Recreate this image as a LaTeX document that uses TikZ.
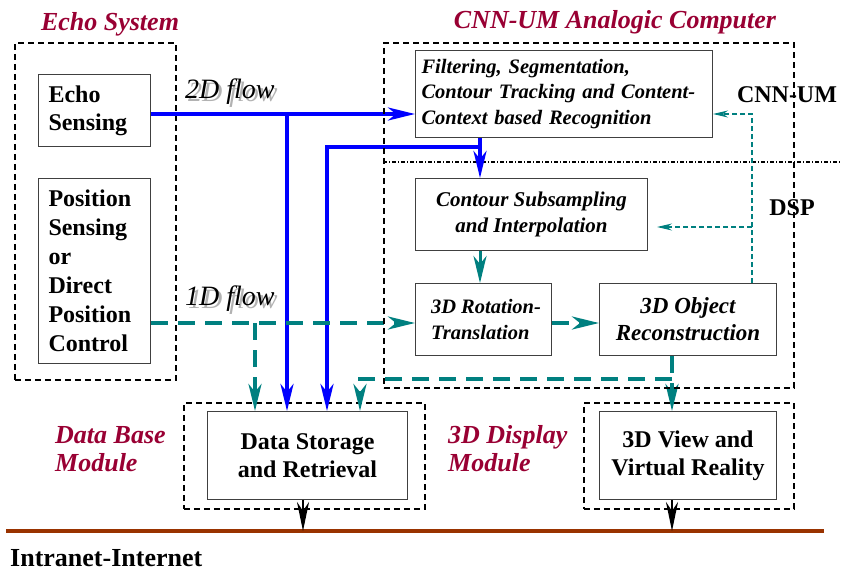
\documentclass[tikz,border=0pt]{standalone}
\usepackage{fontspec}
\setmainfont{Liberation Serif}
\usetikzlibrary{arrows.meta}
\definecolor{maroon}{RGB}{153,0,51}
\definecolor{flowteal}{RGB}{0,128,128}
\definecolor{netbrown}{RGB}{153,51,0}
\newcommand{\shadowtext}[1]{\makebox[0pt][l]{\hspace*{3pt}\raisebox{-3pt}{\textcolor{black!30}{#1}}}#1}
\begin{document}
\begin{tikzpicture}[x=1pt,y=-1pt,
  box/.style={draw=black!75, line width=1pt, fill=white, inner sep=0pt, anchor=north west},
  boldtxt/.style={font=\fontsize{24}{28}\selectfont\bfseries},
  itboxtxt/.style={font=\fontsize{21}{25.5}\selectfont\bfseries\itshape},
  group/.style={draw, line width=1.8pt, dash pattern=on 6pt off 4pt, inner sep=0pt, anchor=north west},
  titletxt/.style={text=maroon, font=\fontsize{26}{28}\selectfont\bfseries\itshape},
  flowtxt/.style={font=\fontsize{28}{30}\selectfont\itshape, inner sep=0pt, anchor=west},
  bigtip/.style={-{Stealth[length=27pt, width=13pt, inset=8pt]}},
  flow2d/.style={blue, line width=4pt, bigtip},
  flow1d/.style={flowteal, line width=4pt, dash pattern=on 17pt off 10pt, bigtip},
  ctrl/.style={flowteal, line width=1.5pt, dash pattern=on 5pt off 3pt, -{Stealth[length=15pt, width=7pt, inset=5pt]}},
  netarrow/.style={black, line width=2.5pt, -{Stealth[length=29pt, width=12pt, inset=9pt]}}
]
\useasboundingbox (0,0) rectangle (841,571);

% group frames
\node[group, minimum width=161pt, minimum height=337pt] (echosys) at (14,42) {};
\node[group, minimum width=241pt, minimum height=106pt] (dbmod) at (183,402) {};
\node[group, minimum width=210pt, minimum height=106pt] (dispmod) at (583,402) {};

% partition between CNN-UM and DSP
\coordinate (divL) at (383,162);
\coordinate (divR) at (841,162);
\draw[line width=1.5pt, dash pattern=on 4pt off 2pt on 1pt off 2pt] (divL) -- (divR);

% group titles
\node[titletxt] (t1) at (110,24) {Echo System};
\node[titletxt] (t2) at (615,22) {CNN-UM Analogic Computer};
\node[titletxt, align=left, anchor=west, inner sep=0pt] (t3) at (55,449) {Data Base\\Module};
\node[titletxt, align=left, anchor=west, inner sep=0pt] (t4) at (448,449) {3D Display\\Module};

% partition labels
\node[boldtxt, inner sep=0pt] (lcnn) at (787,95) {CNN-UM};
\node[boldtxt, inner sep=0pt] (ldsp) at (792,208) {DSP};

% processing blocks
\node[box, boldtxt, minimum width=112pt, minimum height=72pt, text width=92pt, align=left] (echo) at (38,74) {Echo\\Sensing};
\node[box, boldtxt, minimum width=112pt, minimum height=185pt, text width=92pt, align=left, font=\fontsize{24}{29}\selectfont\bfseries] (pos) at (38,178) {Position\\Sensing\\or\\Direct\\Position\\Control};
\node[box, minimum width=297pt, minimum height=87pt, text width=285pt, align=left, font=\fontsize{20.5}{25.5}\selectfont\bfseries\itshape] (filt) at (415,50) {Filtering, Segmentation,\\Contour Tracking and Content-\\Context based Recognition};
\node[box, itboxtxt, minimum width=232pt, minimum height=72pt, align=center] (sub) at (415,178) {Contour Subsampling\\and Interpolation};
\node[box, minimum width=136pt, minimum height=72pt, align=left, font=\fontsize{20.5}{25.5}\selectfont\bfseries\itshape] (rot) at (415,283) {\hspace*{5pt}3D Rotation-\\\hspace*{5pt}Translation};
\node[box, minimum width=177pt, minimum height=72pt, align=center, font=\fontsize{23}{27}\selectfont\bfseries\itshape] (obj) at (599,283) {3D Object\\Reconstruction};
\node[box, boldtxt, minimum width=200pt, minimum height=88pt, align=center] (store) at (207,411) {Data Storage\\and Retrieval};
\node[box, boldtxt, minimum width=177pt, minimum height=88pt, align=center] (view) at (599,411) {3D View and\\Virtual Reality};

% flow labels with drop shadow
\node[flowtxt] (l2d) at (185,93) {\shadowtext{2D flow}};
\node[flowtxt] (l1d) at (185,300) {\shadowtext{1D flow}};

% 2D data flow
\coordinate (y2d) at (0,114);
\coordinate (xcol) at (480,0);
\coordinate (b1) at (287,114);
\coordinate (b2) at (480,147);
\coordinate (b2t) at (327,147);
\draw[flow2d] (echo.east |- y2d) -- (filt.west |- y2d);
\draw[flow2d] (b1) -- (b1 |- store.north);
\draw[flow2d] (filt.south -| xcol) -- (sub.north -| xcol);
\draw[flow2d] (b2) -- (b2t) -- (b2t |- store.north);

% 1D data flow
\coordinate (y1d) at (0,323);
\coordinate (b3) at (255,323);
\coordinate (xobj) at (672,0);
\coordinate (b4) at (672,379);
\coordinate (b4t) at (360,379);
\draw[flow1d] (pos.east |- y1d) -- (rot.west |- y1d);
\draw[flow1d] (b3) -- (b3 |- store.north);
\draw[flow1d] (rot.east |- y1d) -- (obj.west |- y1d);
\draw[flowteal, line width=3pt, bigtip] (sub.south -| xcol) -- (rot.north -| xcol);
\draw[flow1d] (obj.south -| xobj) -- (view.north -| xobj);
\draw[flow1d] (b4) -- (b4t) -- (b4t |- store.north);

% feedback from the DSP side
\coordinate (xfb) at (752,0);
\coordinate (b5) at (752,227);
\coordinate (b5e) at (657,227);
\draw[ctrl] (obj.north -| xfb) |- (filt.east |- y2d);
\draw[ctrl] (b5) -- (b5e);

% analogic computer frame
\node[group, minimum width=410pt, minimum height=345pt] (cnn) at (383,42) {};

% network bus
\coordinate (netL) at (6,531);
\coordinate (netR) at (824,531);
\coordinate (xdb) at (303,0);
\draw[netbrown, line width=4pt] (netL) -- (netR);
\draw[netarrow] (store.south -| xdb) -- (xdb |- netL);
\draw[netarrow] (view.south -| xobj) -- (xobj |- netL);
\node[font=\fontsize{26}{28}\selectfont\bfseries, anchor=base west, inner sep=0pt] (inet) at (10,566) {Intranet-Internet};
\end{tikzpicture}
\end{document}
